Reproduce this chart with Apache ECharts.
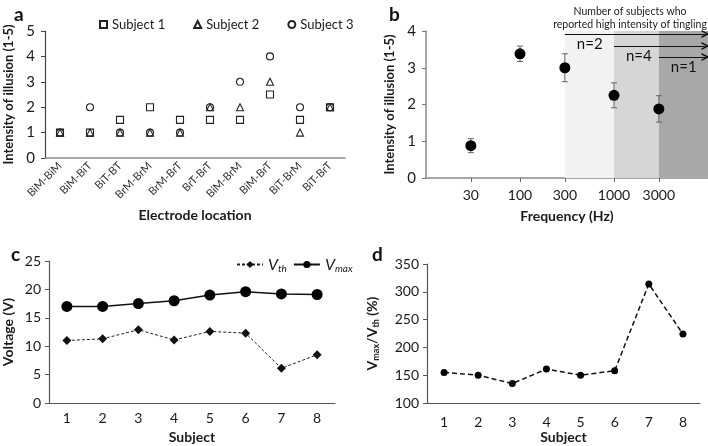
<!DOCTYPE html>
<html><head><meta charset="utf-8">
<script src="https://cdn.jsdelivr.net/npm/echarts@6/dist/echarts.min.js"></script>
<style>html,body{margin:0;padding:0;background:#fff}#c{width:708px;height:446px}</style>
</head><body><div id="c"></div>
<script>
// ---- Panel a data ----
const electrodeLocations = ['BiM-BiM','BiM-BiT','BiT-BT','BrM-BrM','BrM-BrT','BrT-BrT','BiM-BrM','BiM-BrT','BiT-BrM','BiT-BrT'];
const subject1 = [1, 1, 1.5, 2, 1.5, 1.5, 1.5, 2.5, 1.5, 2];
const subject2 = [1, 1, 1, 1, 1, 2, 2, 3, 1, 2];
const subject3 = [1, 2, 1, 1, 1, 2, 3, 4, 2, 2];
const yTicksA = [0, 1, 2, 3, 4, 5];
// ---- Panel b data ----
const frequencies = [30, 100, 300, 1000, 3000];
const intensityMean = [0.88, 3.38, 3.0, 2.25, 1.88];
const intensityErr = [0.19, 0.21, 0.38, 0.34, 0.36];
const bandStarts = [300, 1000, 3000];
const bandEnd = 10000;
const arrowEnd = 9400;
const bandCounts = ['n=2', 'n=4', 'n=1'];
const arrowLevels = [3.92, 3.59, 3.29];
// ---- Panel c data ----
const subjects = ['1','2','3','4','5','6','7','8'];
const vth = [11, 11.3, 12.9, 11.1, 12.6, 12.3, 6.1, 8.5];
const vmax = [17, 17, 17.5, 18, 19, 19.6, 19.2, 19.1];
// ---- Panel d data ----
const ratio = [155, 150, 135, 161, 150, 158, 314, 224];

const FONT = 'Lato, "Liberation Sans", sans-serif';
const TXT = '#1a1a1a';
const chart = echarts.init(document.getElementById('c'), null, {renderer: 'canvas'});

const axisTitle = {fontFamily: FONT, fontWeight: 'bold', fontSize: 14, color: TXT};
const tickLbl = {fontFamily: FONT, fontSize: 14, color: TXT};

const bandColors = ['#f2f2f2', '#d6d6d6', '#a8a8a8'];
const markAreaData = bandStarts.map((s, i) => [
  {xAxis: s, yAxis: 0, itemStyle: {color: bandColors[i]}},
  {xAxis: i < bandStarts.length - 1 ? bandStarts[i + 1] : bandEnd, yAxis: 4.17}
]);
const markLineData = bandStarts.map((s, i) => [
  {coord: [s, arrowLevels[i]], label: {formatter: bandCounts[i]}},
  {coord: [arrowEnd, arrowLevels[i]]}
]);

const errData = frequencies.map((f, i) => [f, intensityMean[i] - intensityErr[i], intensityMean[i] + intensityErr[i]]);

const hollow = {color: 'rgba(0,0,0,0)', borderColor: '#222', borderWidth: 1.1, opacity: 1};

const option = {
  animation: false,
  textStyle: {fontFamily: FONT},
  title: [
    {text: 'a', left: 9, top: 0, textStyle: {fontFamily: FONT, fontWeight: 'bold', fontSize: 19, color: '#111'}},
    {text: 'b', left: 384, top: 0, textStyle: {fontFamily: FONT, fontWeight: 'bold', fontSize: 19, color: '#111'}},
    {text: 'c', left: 6, top: 240, textStyle: {fontFamily: FONT, fontWeight: 'bold', fontSize: 19, color: '#111'}},
    {text: 'd', left: 367, top: 240, textStyle: {fontFamily: FONT, fontWeight: 'bold', fontSize: 19, color: '#111'}},
    {text: 'Number of subjects who\nreported high intensity of tingling', left: 625, top: 0, textAlign: 'center',
     textStyle: {fontFamily: FONT, fontWeight: 'normal', fontSize: 10.5, lineHeight: 13, color: '#222'}}
  ],
  legend: [
    {left: 94, top: 13, itemWidth: 7, itemHeight: 7, itemGap: 28, data: [
      {name: 'Subject 1', icon: 'rect'}, {name: 'Subject 2', icon: 'triangle'}, {name: 'Subject 3', icon: 'circle'}],
     textStyle: {fontFamily: FONT, fontSize: 13, color: TXT}},
    {left: 231, top: 250, itemWidth: 26, itemHeight: 9, itemGap: 6, data: ['Vth', 'Vmax'],
     formatter: n => n === 'Vth' ? '{i|V}{s|th}' : '{i|V}{s|max}',
     textStyle: {fontFamily: FONT, color: TXT, rich: {
       i: {fontFamily: FONT, fontStyle: 'italic', fontSize: 16, color: TXT, lineHeight: 20},
       s: {fontFamily: FONT, fontStyle: 'italic', fontSize: 10, color: TXT, lineHeight: 20, padding: [9, 0, 0, 0]}
     }}}
  ],
  grid: [
    {left: 45, top: 31, width: 300, height: 127},
    {left: 426, top: 31, width: 282, height: 147},
    {left: 49, top: 261, width: 286, height: 142},
    {left: 427, top: 264, width: 273, height: 139}
  ],
  xAxis: [
    {gridIndex: 0, type: 'category', data: electrodeLocations, boundaryGap: true,
     name: 'Electrode location', nameLocation: 'middle', nameGap: 50, nameTextStyle: axisTitle,
     axisLine: {lineStyle: {color: '#8a8a8a', width: 1.5}}, axisTick: {show: false},
     axisLabel: {rotate: 45, interval: 0, fontFamily: FONT, fontSize: 11, color: '#333', margin: 6}},
    {gridIndex: 1, type: 'log', min: 10, max: 10000, logBase: 10,
     name: 'Frequency (Hz)', nameLocation: 'middle', nameGap: 31, nameTextStyle: axisTitle,
     axisLine: {lineStyle: {color: '#8a8a8a', width: 1.5}},
     axisTick: {show: true, length: 4, customValues: frequencies, lineStyle: {color: '#666'}},
     axisLabel: {customValues: frequencies, ...tickLbl, margin: 10, formatter: v => String(Math.round(v))},
     splitLine: {show: false}, minorTick: {show: false}, minorSplitLine: {show: false}},
    {gridIndex: 2, type: 'category', data: subjects, boundaryGap: true,
     name: 'Subject', nameLocation: 'middle', nameGap: 27, nameTextStyle: axisTitle,
     axisLine: {lineStyle: {color: '#555', width: 1.2}}, axisTick: {show: false},
     axisLabel: {...tickLbl, margin: 8}},
    {gridIndex: 3, type: 'category', data: subjects, boundaryGap: true,
     name: 'Subject', nameLocation: 'middle', nameGap: 27, nameTextStyle: axisTitle,
     axisLine: {lineStyle: {color: '#555', width: 1.2}}, axisTick: {show: false},
     axisLabel: {...tickLbl, margin: 12}}
  ],
  yAxis: [
    {gridIndex: 0, type: 'value', min: 0, max: 5, interval: 1,
     name: 'Intensity of illusion (1-5)', nameLocation: 'middle', nameGap: 30, nameTextStyle: {...axisTitle, fontSize: 13},
     axisLine: {show: true, lineStyle: {color: '#444', width: 1.2}}, axisTick: {show: true, length: 4, lineStyle: {color: '#444'}},
     axisLabel: {...tickLbl, fontSize: 15, margin: 10, formatter: v => yTicksA.includes(v) ? String(v) : ''}, splitLine: {show: false}},
    {gridIndex: 1, type: 'value', min: 0, max: 4, interval: 1,
     name: 'Intensity of illusion (1-5)', nameLocation: 'middle', nameGap: 30, nameTextStyle: {...axisTitle, fontSize: 13},
     axisLine: {show: true, lineStyle: {color: '#8a8a8a', width: 1.5}}, axisTick: {show: true, length: 4, lineStyle: {color: '#777'}},
     axisLabel: {...tickLbl, fontSize: 15, margin: 10}, splitLine: {show: false}},
    {gridIndex: 2, type: 'value', min: 0, max: 25, interval: 5,
     name: 'Voltage (V)', nameLocation: 'middle', nameGap: 34, nameTextStyle: axisTitle,
     axisLine: {show: true, lineStyle: {color: '#555', width: 1.2}}, axisTick: {show: true, length: 4, lineStyle: {color: '#555'}},
     axisLabel: {...tickLbl, margin: 8}, splitLine: {show: false}},
    {gridIndex: 3, type: 'value', min: 100, max: 350, interval: 50,
     name: '{b|V}{s|max}{b|/V}{s|th}{b| (%)}', nameLocation: 'middle', nameGap: 46,
     nameTextStyle: {...axisTitle, rich: {
       b: {fontFamily: FONT, fontWeight: 'bold', fontSize: 14, color: TXT, lineHeight: 18},
       s: {fontFamily: FONT, fontWeight: 'bold', fontSize: 9, color: TXT, lineHeight: 18, padding: [8, 0, 0, 0]}}},
     axisLine: {show: true, lineStyle: {color: '#555', width: 1.2}}, axisTick: {show: true, length: 4, lineStyle: {color: '#555'}},
     axisLabel: {...tickLbl, margin: 8}, splitLine: {show: false}}
  ],
  series: [
    {name: 'Subject 1', type: 'scatter', xAxisIndex: 0, yAxisIndex: 0, data: subject1, symbol: 'rect', symbolSize: 7, itemStyle: hollow, z: 3},
    {name: 'Subject 2', type: 'scatter', xAxisIndex: 0, yAxisIndex: 0, data: subject2, symbol: 'triangle', symbolSize: 7, itemStyle: hollow, z: 3},
    {name: 'Subject 3', type: 'scatter', xAxisIndex: 0, yAxisIndex: 0, data: subject3, symbol: 'circle', symbolSize: 7, itemStyle: hollow, z: 3},
    {type: 'custom', xAxisIndex: 1, yAxisIndex: 1, data: errData, z: 4,
     renderItem: (params, api) => {
       const x = api.value(0), lo = api.coord([x, api.value(1)]), hi = api.coord([x, api.value(2)]);
       const w = 3, st = {stroke: '#666', lineWidth: 1};
       return {type: 'group', children: [
         {type: 'line', shape: {x1: lo[0], y1: lo[1], x2: hi[0], y2: hi[1]}, style: st},
         {type: 'line', shape: {x1: lo[0] - w, y1: lo[1], x2: lo[0] + w, y2: lo[1]}, style: st},
         {type: 'line', shape: {x1: hi[0] - w, y1: hi[1], x2: hi[0] + w, y2: hi[1]}, style: st}
       ]};
     }},
    {type: 'scatter', xAxisIndex: 1, yAxisIndex: 1, clip: false, z: 5,
     data: frequencies.map((f, i) => [f, intensityMean[i]]), symbol: 'circle', symbolSize: 11, itemStyle: {color: '#000', opacity: 1},
     markArea: {silent: true, data: markAreaData, z: 1},
     markLine: {silent: true, symbol: ['none', 'path://M0,10 L5,0 L10,10 L8,10 L5,4 L2,10 Z'], symbolSize: [8, 8],
       lineStyle: {color: '#111', width: 1.2, type: 'solid'},
       label: {show: true, position: 'insideStartBottom', distance: [12, 3], fontFamily: FONT, fontSize: 15, color: '#111'},
       data: markLineData}},
    {name: 'Vth', type: 'line', xAxisIndex: 2, yAxisIndex: 2, data: vth, symbol: 'diamond', symbolSize: 9,
     itemStyle: {color: '#111'}, lineStyle: {color: '#222', width: 1, type: [3, 2]}},
    {name: 'Vmax', type: 'line', xAxisIndex: 2, yAxisIndex: 2, data: vmax, symbol: 'circle', symbolSize: 11,
     itemStyle: {color: '#000'}, lineStyle: {color: '#111', width: 1.5}},
    {type: 'line', xAxisIndex: 3, yAxisIndex: 3, data: ratio, symbol: 'circle', symbolSize: 7,
     itemStyle: {color: '#000'}, lineStyle: {color: '#111', width: 1.5, type: [5, 3]}}
  ]
};
chart.setOption(option);
</script></body></html>
